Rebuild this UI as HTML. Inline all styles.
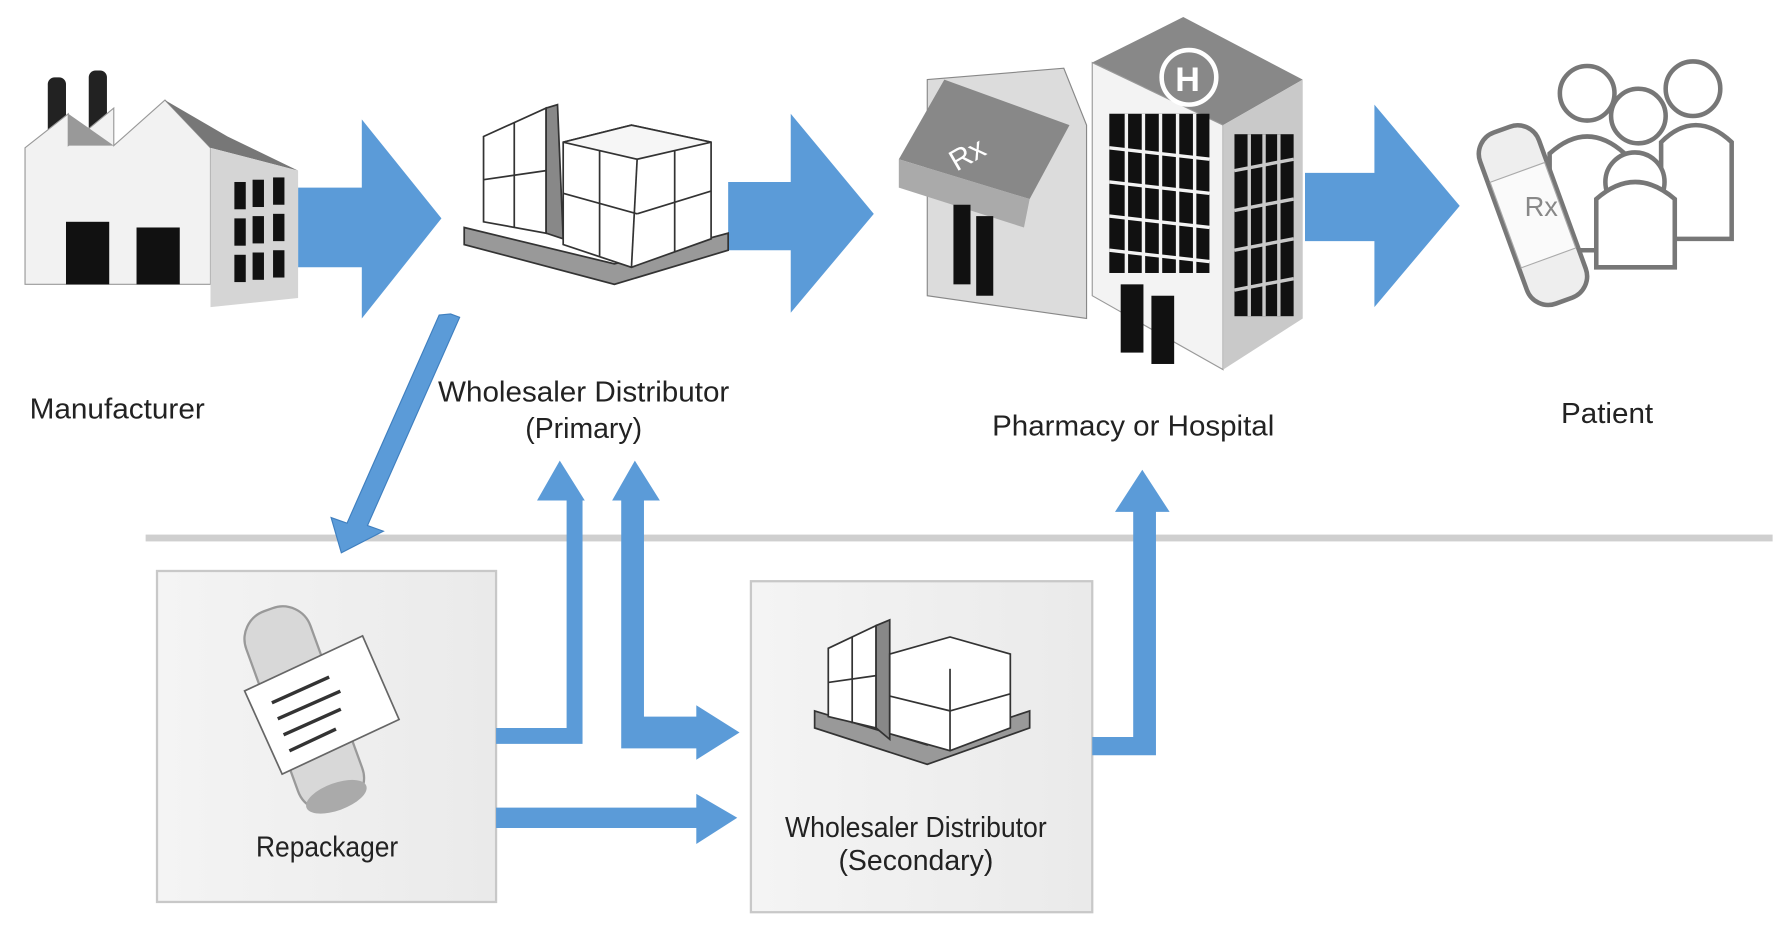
<!DOCTYPE html>
<html><head><meta charset="utf-8"><style>
html,body{margin:0;padding:0;background:#fff;}
svg{display:block}
text{font-family:"Liberation Sans",sans-serif;fill:#222;}
</style></head><body>
<svg width="1784" height="927" viewBox="0 0 1568 815" preserveAspectRatio="none">
<defs>
<linearGradient id="gb" x1="0" x2="1"><stop offset="0" stop-color="#f4f4f4"/><stop offset="1" stop-color="#eaeaea"/></linearGradient>
</defs>
<rect x="128" y="470" width="1430" height="6" fill="#cfcfcf"/>
<rect x="138" y="502" width="298" height="291" fill="url(#gb)" stroke="#c8c8c8" stroke-width="2"/>
<rect x="660" y="511" width="300" height="291" fill="url(#gb)" stroke="#c8c8c8" stroke-width="2"/>

<g fill="#5b9bd8">
<polygon points="262,165 318,165 318,105 388,192 318,280 318,235 262,235"/>
<polygon points="640,160 695,160 695,100 768,188 695,275 695,220 640,220"/>
<polygon points="1147,152 1208,152 1208,92 1283,181 1208,270 1208,212 1147,212"/>
<polygon points="396,276 404,279 323,462 337,467 300,486 291,455 305,460 386,277" stroke="#3f7fbf" stroke-width="1"/>
<path d="M436,640 H498 V440 H472 L492,405 L514,440 H512 V654 H436 Z"/>
<path d="M546,440 H538 L558,405 L580,440 H566 V630 H612 V620 L650,644 L612,668 V658 H546 Z"/>
<path d="M436,710 H612 V698 L648,719 L612,742 V728 H436 Z"/>
<path d="M960,648 H996 V450 H980 L1004,413 L1028,450 H1016 V664 H960 Z"/>
</g>

<!-- Factory -->
<g>
<rect x="42" y="68" width="16" height="70" rx="6" fill="#222"/>
<rect x="78" y="62" width="16" height="76" rx="6" fill="#222"/>
<polygon points="22,130 60,100 60,128 100,95 100,128 145,88 185,130 185,250 22,250" fill="#f2f2f2" stroke="#999"/>
<polygon points="60,100 100,128 60,128" fill="#999"/>
<polygon points="145,88 200,120 262,150 185,130" fill="#777"/>
<polygon points="185,130 262,150 262,262 185,270" fill="#d5d5d5"/>
<rect x="58" y="195" width="38" height="55" fill="#111"/>
<rect x="120" y="200" width="38" height="50" fill="#111"/>
<g fill="#111"><rect x="206" y="160" width="10" height="24"/><rect x="222" y="158" width="10" height="24"/><rect x="240" y="156" width="10" height="24"/>
<rect x="206" y="192" width="10" height="24"/><rect x="222" y="190" width="10" height="24"/><rect x="240" y="188" width="10" height="24"/>
<rect x="206" y="224" width="10" height="24"/><rect x="222" y="222" width="10" height="24"/><rect x="240" y="220" width="10" height="24"/></g>
</g>

<!-- Primary pallet -->
<g stroke="#333" stroke-width="1.5" fill="#fff">
<polygon points="408,200 540,232 640,205 640,220 540,250 408,215" fill="#999"/>
<polygon points="425,120 480,95 480,205 425,195"/>
<polygon points="480,95 490,92 495,210 480,205" fill="#888"/>
<polygon points="495,125 555,110 625,125 625,210 555,235 495,215"/>
<polygon points="495,125 555,110 625,125 560,140" fill="#f6f6f6"/>
<line x1="560" y1="140" x2="555" y2="235"/><line x1="495" y1="170" x2="560" y2="188"/><line x1="560" y1="188" x2="625" y2="168"/>
<line x1="527" y1="132" x2="527" y2="225"/><line x1="593" y1="132" x2="593" y2="222"/>
<line x1="425" y1="158" x2="480" y2="150"/><line x1="452" y1="108" x2="452" y2="200"/>
</g>

<!-- Pharmacy & Hospital -->
<g>
<polygon points="815,70 935,60 955,110 955,280 815,260" fill="#dcdcdc" stroke="#888"/>
<polygon points="790,140 830,70 940,110 905,175" fill="#888"/>
<polygon points="790,140 905,175 900,200 790,165" fill="#aaa"/>
<text x="835" y="150" font-size="26" transform="rotate(-30 840 140)" style="fill:#fff">Rx</text>
<rect x="838" y="180" width="15" height="70" fill="#111"/><rect x="858" y="190" width="15" height="70" fill="#111"/>
<polygon points="960,55 1040,15 1145,70 1075,110" fill="#888"/>
<polygon points="960,55 1075,110 1075,325 960,260" fill="#f3f3f3" stroke="#999"/>
<polygon points="1075,110 1145,70 1145,280 1075,325" fill="#c9c9c9"/>
<circle cx="1045" cy="68" r="24" fill="none" stroke="#fff" stroke-width="4"/>
<text x="1033" y="80" font-size="30" font-weight="bold" style="fill:#fff">H</text>
<g fill="#111">
<rect x="975" y="100" width="88" height="140"/>
<rect x="1085" y="118" width="52" height="160"/>
<rect x="985" y="250" width="20" height="60"/><rect x="1012" y="260" width="20" height="60"/>
</g>
<g stroke="#f3f3f3" stroke-width="3">
<line x1="990" y1="100" x2="990" y2="240"/><line x1="1005" y1="100" x2="1005" y2="240"/><line x1="1020" y1="100" x2="1020" y2="240"/><line x1="1035" y1="100" x2="1035" y2="240"/><line x1="1050" y1="100" x2="1050" y2="240"/>
<line x1="975" y1="130" x2="1063" y2="140"/><line x1="975" y1="160" x2="1063" y2="170"/><line x1="975" y1="190" x2="1063" y2="200"/><line x1="975" y1="220" x2="1063" y2="230"/>
</g>
<g stroke="#c9c9c9" stroke-width="3">
<line x1="1098" y1="118" x2="1098" y2="278"/><line x1="1111" y1="118" x2="1111" y2="278"/><line x1="1124" y1="118" x2="1124" y2="278"/>
<line x1="1085" y1="150" x2="1137" y2="140"/><line x1="1085" y1="185" x2="1137" y2="175"/><line x1="1085" y1="220" x2="1137" y2="210"/><line x1="1085" y1="255" x2="1137" y2="245"/>
</g>
</g>

<!-- Patient -->
<g fill="#fff" stroke="#777" stroke-width="4">
<circle cx="1395" cy="82" r="24"/><circle cx="1488" cy="78" r="24"/><circle cx="1440" cy="102" r="24"/>
<path d="M1362,220 V135 Q1395,105 1428,135 V220 Z"/>
<path d="M1460,210 V125 Q1490,95 1522,125 V210 Z"/>
<circle cx="1437" cy="160" r="26"/>
<path d="M1403,235 V175 Q1437,145 1472,175 V235 Z"/>
<g transform="rotate(-20 1345 190)">
<rect x="1320" y="110" width="55" height="160" rx="20" fill="#eee"/>
<rect x="1322" y="150" width="51" height="80" fill="#fafafa" stroke="#aaa" stroke-width="1"/>
</g>
</g>
<text x="1340" y="190" font-size="24" style="fill:#888">Rx</text>

<!-- Repackager bottle -->
<g transform="rotate(-20 270 630)">
<rect x="240" y="530" width="60" height="185" rx="26" fill="#d8d8d8" stroke="#999" stroke-width="2"/>
<ellipse cx="270" cy="705" rx="28" ry="12" fill="#aaa"/>
<path d="M226,590 L340,580 L345,660 L232,670 Z" fill="#fff" stroke="#666" stroke-width="1.5"/>
<g stroke="#333" stroke-width="3"><line x1="245" y1="608" x2="300" y2="604"/><line x1="245" y1="623" x2="305" y2="619"/><line x1="245" y1="638" x2="300" y2="634"/><line x1="245" y1="653" x2="290" y2="649"/></g>
</g>

<!-- Secondary pallet -->
<g stroke="#333" stroke-width="1.5" fill="#fff">
<polygon points="716,625 815,655 905,625 905,640 815,672 716,640" fill="#999"/>
<polygon points="728,570 770,550 770,640 728,630"/>
<polygon points="770,550 782,545 782,650 770,640" fill="#888"/>
<polygon points="782,575 835,560 888,575 888,640 835,660 782,645"/>
<line x1="835" y1="588" x2="835" y2="660"/><line x1="782" y1="612" x2="835" y2="625"/><line x1="835" y1="625" x2="888" y2="610"/>
<line x1="728" y1="600" x2="770" y2="594"/><line x1="749" y1="560" x2="749" y2="636"/>
</g>

<g font-size="25">
<text x="26" y="368" textLength="154" lengthAdjust="spacingAndGlyphs">Manufacturer</text>
<text x="385" y="353" textLength="256" lengthAdjust="spacingAndGlyphs">Wholesaler Distributor</text>
<text x="513" y="385" text-anchor="middle">(Primary)</text>
<text x="872" y="383" textLength="248" lengthAdjust="spacingAndGlyphs">Pharmacy or Hospital</text>
<text x="1372" y="372" textLength="81" lengthAdjust="spacingAndGlyphs">Patient</text>
<text x="225" y="753" textLength="125" lengthAdjust="spacingAndGlyphs">Repackager</text>
<text x="690" y="736" textLength="230" lengthAdjust="spacingAndGlyphs">Wholesaler Distributor</text>
<text x="805" y="765" text-anchor="middle">(Secondary)</text>
</g>
</svg>
</body></html>
